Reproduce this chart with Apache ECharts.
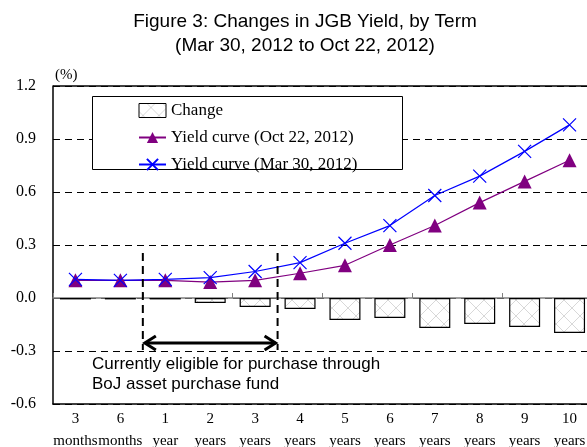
<!DOCTYPE html>
<html>
<head>
<meta charset="utf-8">
<title>JGB Yield</title>
<script src="https://cdn.jsdelivr.net/npm/echarts@6/dist/echarts.min.js"></script>
<style>
  * { margin: 0; padding: 0 }
  html, body { width: 100%; height: 100%; background: #fff; }
  #main { width: 587px; height: 447px; }
</style>
</head>
<body>
<div id="main"></div>
<script>
  // data
  var terms = ['3\nmonths', '6\nmonths', '1\nyear', '2\nyears', '3\nyears', '4\nyears',
               '5\nyears', '6\nyears', '7\nyears', '8\nyears', '9\nyears', '10\nyears'];
  var yieldOct = [0.10, 0.10, 0.10, 0.09, 0.10, 0.14, 0.185, 0.30, 0.41, 0.54, 0.66, 0.78];
  var yieldMar = [0.105, 0.10, 0.105, 0.115, 0.15, 0.20, 0.31, 0.41, 0.58, 0.69, 0.83, 0.98];
  var change = [-0.008, -0.008, -0.008, -0.028, -0.051, -0.062, -0.124, -0.113, -0.17, -0.147, -0.164, -0.198];
  var yTicks = [-0.6, -0.3, 0.0, 0.3, 0.6, 0.9, 1.2];
  // eligible range (category boundaries) and the arrow level
  var fundFrom = 1.5, fundTo = 4.5;
  var arrowY = -0.255, bracketTop = 0.255, bracketBottom = -0.295;

  var serif = 'Liberation Serif';
  var sans = 'Liberation Sans';

  // hatch fill for the change bars
  var hatch = document.createElement('canvas');
  hatch.width = 16; hatch.height = 16;
  var hc = hatch.getContext('2d');
  hc.fillStyle = '#fff';
  hc.fillRect(0, 0, 16, 16);
  hc.strokeStyle = '#d8d8d8';
  hc.lineWidth = 1;
  hc.beginPath();
  hc.moveTo(0, 16); hc.lineTo(16, 0);
  hc.moveTo(-8, 8); hc.lineTo(8, -8);
  hc.moveTo(8, 24); hc.lineTo(24, 8);
  hc.moveTo(4, 12); hc.lineTo(8, 16);
  hc.moveTo(12, 4); hc.lineTo(16, 8);
  hc.moveTo(0, 8); hc.lineTo(4, 12);
  hc.moveTo(8, 0); hc.lineTo(12, 4);
  hc.stroke();

  var chart = echarts.init(document.getElementById('main'));
  chart.setOption({
    animation: false,
    grid: { left: 53, top: 86, width: 539, height: 318, outerBoundsMode: 'none', containLabel: false },
    legend: {
      orient: 'vertical',
      left: 138,
      top: 102,
      padding: 0,
      itemGap: 10,
      itemWidth: 27,
      itemHeight: 14,
      z: 6,
      textStyle: { fontFamily: serif, fontSize: 17, color: '#000' },
      data: [
        { name: 'Change', icon: 'rect', itemStyle: { borderColor: '#000', borderWidth: 1 } },
        'Yield curve (Oct 22, 2012)',
        'Yield curve (Mar 30, 2012)'
      ]
    },
    xAxis: [{
      type: 'category',
      data: terms,
      axisLine: { onZero: true, lineStyle: { color: '#808080', width: 1.5 } },
      axisTick: { show: true, inside: true, length: 5, lineStyle: { color: '#808080' } },
      axisLabel: { show: false },
      splitLine: { show: false }
    }, {
      type: 'category',
      data: terms,
      position: 'bottom',
      axisLine: { onZero: false, lineStyle: { color: '#000', width: 1.5 } },
      axisTick: { show: false },
      axisLabel: { fontFamily: serif, fontSize: 15, color: '#000', margin: 4, lineHeight: 22, interval: 0 }
    }],
    yAxis: {
      type: 'value',
      min: -0.6,
      max: 1.2,
      interval: 0.3,
      axisLine: { show: true, lineStyle: { color: '#000', width: 1.5 } },
      axisTick: { show: false },
      axisLabel: {
        fontFamily: serif, fontSize: 16, color: '#000', margin: 17,
        formatter: function (v) { return v.toFixed(1); }
      },
      splitLine: { show: true, lineStyle: { color: '#000', type: [7, 5], width: 1 } }
    },
    series: [{
      name: 'Change',
      type: 'bar',
      data: change,
      barWidth: 31,
      itemStyle: { color: { image: hatch, repeat: 'repeat' }, borderColor: '#000', borderWidth: 1.2 }
    }, {
      name: 'Yield curve (Oct 22, 2012)',
      type: 'line',
      data: yieldOct,
      symbol: 'triangle',
      symbolSize: 14,
      lineStyle: { color: '#800080', width: 1.2 },
      itemStyle: { color: '#800080' }
    }, {
      name: 'Yield curve (Mar 30, 2012)',
      type: 'line',
      data: yieldMar,
      symbol: 'path://M0,0L10,10M0,10L10,0',
      symbolSize: 13,
      lineStyle: { color: '#0000ff', width: 1.2 },
      itemStyle: { color: 'none', borderColor: '#0000ff', borderWidth: 1.2 }
    }]
  });

  // annotations positioned through the axes
  function px(i) {
    var a = chart.convertToPixel({ xAxisIndex: 0 }, Math.floor(i));
    var b = chart.convertToPixel({ xAxisIndex: 0 }, Math.ceil(i));
    return (a + b) / 2;
  }
  function py(v) { return chart.convertToPixel({ yAxisIndex: 0 }, v); }

  var x1 = px(fundFrom), x2 = px(fundTo);
  var ya = py(arrowY), yt = py(bracketTop), yb = py(bracketBottom);
  var ytop = py(yTicks[yTicks.length - 1]);
  var dashed = { stroke: '#000', lineWidth: 2, lineDash: [8, 5] };
  var arrow = { stroke: '#000', lineWidth: 3, fill: null };

  chart.setOption({
    graphic: [
      { type: 'text', x: 305, y: 22, style: {
          text: 'Figure 3: Changes in JGB Yield, by Term',
          font: '19px ' + sans, fill: '#000', align: 'center', verticalAlign: 'middle' } },
      { type: 'text', x: 305, y: 46, style: {
          text: '(Mar 30, 2012 to Oct 22, 2012)',
          font: '19px ' + sans, fill: '#000', align: 'center', verticalAlign: 'middle' } },
      { type: 'text', x: 55, y: 75, style: { text: '(%)', font: '15px ' + serif, fill: '#000', verticalAlign: 'middle' } },
      { type: 'line', shape: { x1: 53, y1: ytop, x2: 587, y2: ytop }, style: { stroke: '#000', lineWidth: 1.5 } },
      { type: 'rect', shape: { x: 92.5, y: 96.5, width: 310, height: 73 }, style: { fill: '#fff', stroke: '#000', lineWidth: 1 }, z: 3 },
      { type: 'line', shape: { x1: x1, y1: yt, x2: x1, y2: yb }, style: dashed, z: 10 },
      { type: 'line', shape: { x1: x2, y1: yt, x2: x2, y2: yb }, style: dashed, z: 10 },
      { type: 'polyline', shape: { points: [[x1 + 2, ya], [x2 - 2, ya]] }, style: arrow, z: 10 },
      { type: 'polyline', shape: { points: [[x1 + 13, ya - 7], [x1 + 2, ya], [x1 + 13, ya + 7]] }, style: arrow, z: 10 },
      { type: 'polyline', shape: { points: [[x2 - 13, ya - 7], [x2 - 2, ya], [x2 - 13, ya + 7]] }, style: arrow, z: 10 },
      { type: 'text', x: 92, y: 354, style: {
          text: 'Currently eligible for purchase through\nBoJ asset purchase fund',
          font: '17px ' + sans, fill: '#000', lineHeight: 20 }, z: 10 }
    ]
  });
</script>
</body>
</html>
